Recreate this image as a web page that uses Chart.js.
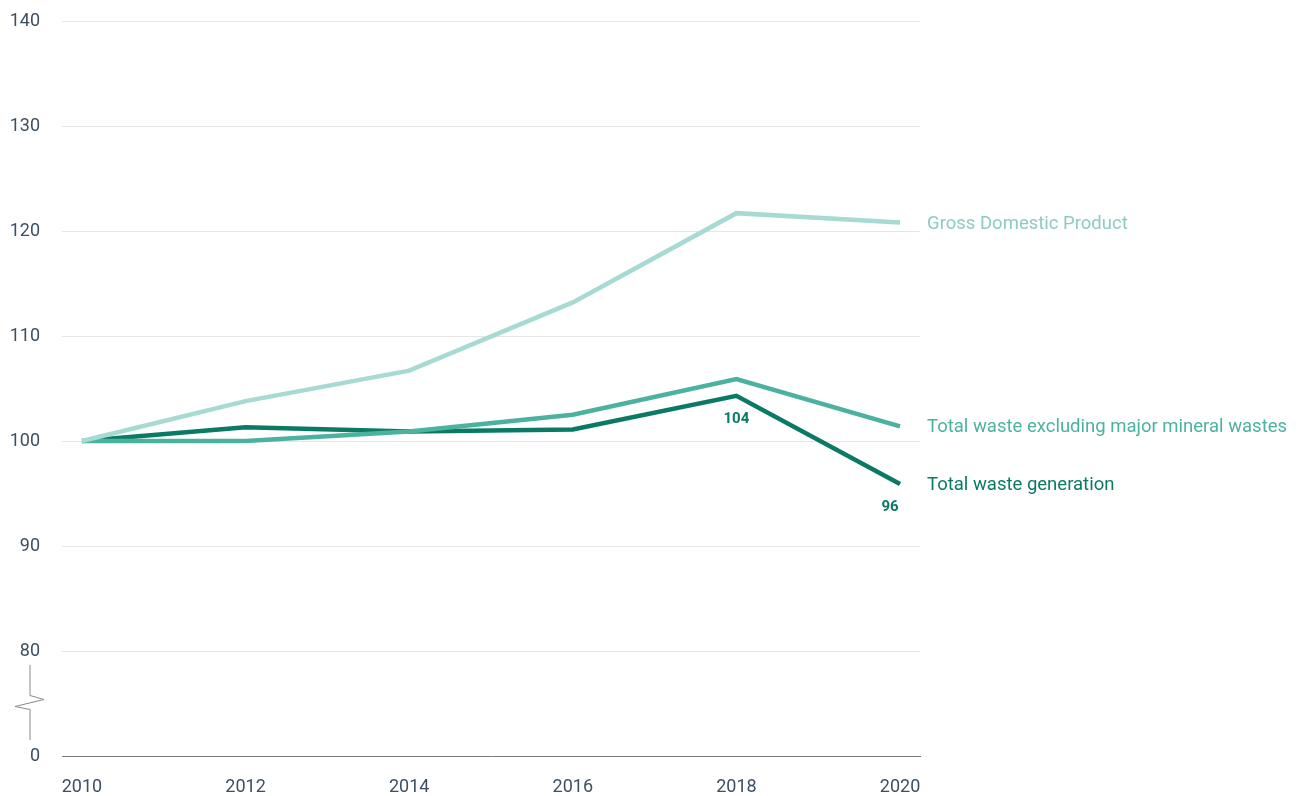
<!DOCTYPE html>
<html>
<head>
<meta charset="utf-8">
<script src="https://cdn.jsdelivr.net/npm/chart.js@4/dist/chart.umd.min.js"></script>
<style>
  html, body { margin: 0; padding: 0; background: #fff; }
  #wrap { position: relative; width: 1301px; height: 796px; }
</style>
</head>
<body>
<div id="wrap"><canvas id="chart"></canvas></div>
<script>
const years = [2010, 2012, 2014, 2016, 2018, 2020];
const yTicks = [70, 80, 90, 100, 110, 120, 130, 140];
const gdp = [100, 103.8, 106.7, 113.2, 121.7, 120.8];
const wasteExclMineral = [100, 100, 100.9, 102.5, 105.9, 101.4];
const wasteTotal = [100, 101.3, 100.9, 101.1, 104.3, 95.9];
const seriesNames = ['Gross Domestic Product', 'Total waste excluding major mineral wastes', 'Total waste generation'];
const seriesColors = ['#a6dad3', '#4cb2a0', '#0b7a65'];
const nameColors = ['#8fcbc2', '#4cb2a0', '#0b7a65'];
const pointLabels = [{ year: 2018, text: '104', dx: 0 }, { year: 2020, text: '96', dx: -10 }];

function toXY(vals) {
  return vals.map((v, i) => ({ x: years[i], y: v }));
}

// series names at the line ends + labels under the total waste line
const endLabels = {
  id: 'endLabels',
  afterDatasetsDraw(chart) {
    const ctx = chart.ctx;
    ctx.save();
    ctx.font = '18.5px Roboto';
    ctx.textBaseline = 'middle';
    ctx.textAlign = 'left';
    chart.data.datasets.forEach((ds, i) => {
      const meta = chart.getDatasetMeta(i);
      const last = meta.data[meta.data.length - 1];
      ctx.fillStyle = nameColors[i];
      ctx.fillText(seriesNames[i], last.x + 27, last.y + 1.5);
    });
    const meta = chart.getDatasetMeta(2);
    ctx.font = 'bold 15px Roboto';
    ctx.fillStyle = seriesColors[2];
    ctx.textAlign = 'center';
    pointLabels.forEach(p => {
      const pt = meta.data[years.indexOf(p.year)];
      ctx.fillText(p.text, pt.x + p.dx, pt.y + 23.5);
    });
    ctx.restore();
  }
};

// axis break mark between 0 and 80
const axisBreak = {
  id: 'axisBreak',
  afterDraw(chart) {
    const y = chart.scales.y;
    const top = y.getPixelForValue(80) + 14;
    const bot = y.getPixelForValue(70) - 16;
    const mid = (top + bot) / 2;
    const ctx = chart.ctx;
    ctx.save();
    ctx.strokeStyle = '#8a8a8a';
    ctx.lineWidth = 1;
    ctx.beginPath();
    ctx.moveTo(30, top);
    ctx.lineTo(30, mid - 7);
    ctx.lineTo(44, mid - 3);
    ctx.lineTo(15, mid + 4);
    ctx.lineTo(30, mid + 7);
    ctx.lineTo(30, bot);
    ctx.stroke();
    ctx.restore();
  }
};

new Chart(document.getElementById('chart'), {
  type: 'line',
  data: {
    datasets: [
      { label: seriesNames[0], data: toXY(gdp), borderColor: seriesColors[0] },
      { label: seriesNames[1], data: toXY(wasteExclMineral), borderColor: seriesColors[1] },
      { label: seriesNames[2], data: toXY(wasteTotal), borderColor: seriesColors[2] }
    ]
  },
  options: {
    responsive: true,
    maintainAspectRatio: false,
    animation: false,
    layout: { padding: { top: 21, right: 381, bottom: 0, left: 8 } },
    elements: {
      line: { borderWidth: 4.5, tension: 0, borderCapStyle: 'butt', borderJoinStyle: 'miter' },
      point: { radius: 0 }
    },
    plugins: {
      legend: { display: false },
      tooltip: { enabled: false }
    },
    scales: {
      x: {
        type: 'linear',
        min: 2009.756,
        max: 2020.244,
        afterBuildTicks: axis => { axis.ticks = years.map(v => ({ value: v })); },
        afterFit: scale => {
          scale.height = 40;
          scale.paddingLeft = 0;
          scale.paddingRight = 0;
        },
        grid: { display: false, drawTicks: false },
        border: { display: true, color: '#7a7a7a', width: 1 },
        ticks: {
          padding: 21,
          color: '#3d4f63',
          font: { family: 'Roboto', size: 18 },
          maxRotation: 0,
          callback: v => String(v)
        }
      },
      y: {
        min: 70,
        max: 140,
        afterBuildTicks: axis => { axis.ticks = yTicks.map(v => ({ value: v })); },
        afterFit: scale => {
          scale.width = 54;
          scale.paddingTop = 0;
          scale.paddingBottom = 0;
        },
        grid: {
          color: ctx => ctx.tick && ctx.tick.value === 70 ? 'rgba(0,0,0,0)' : '#e6e6e6',
          drawTicks: false
        },
        border: { display: false },
        ticks: {
          padding: 22,
          color: '#3d4f63',
          font: { family: 'Roboto', size: 18 },
          callback: v => (v === 70 ? '0' : String(v))
        }
      }
    }
  },
  plugins: [endLabels, axisBreak]
});
</script>
</body>
</html>
